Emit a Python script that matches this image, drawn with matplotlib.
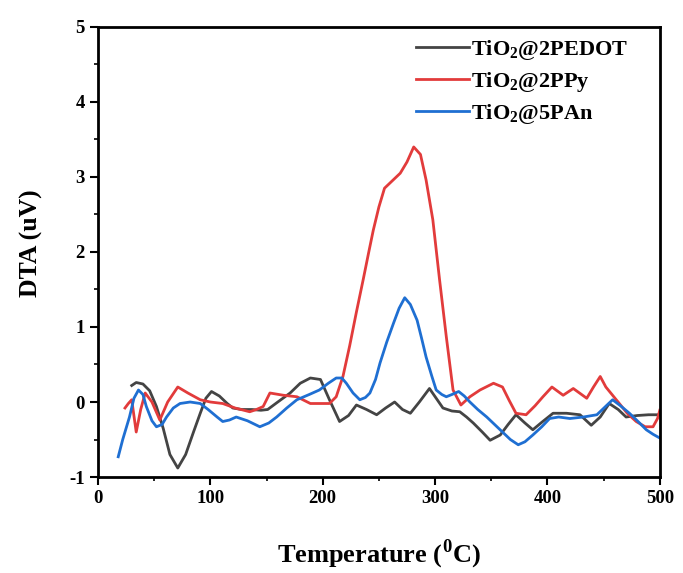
import matplotlib.pyplot as plt

# temperature (°C) and DTA (uV)
t_pedot = [30, 34, 40, 46, 52, 58, 64, 71, 78, 85, 91, 96, 101, 108, 115, 120, 128, 137, 145, 151,
           160, 171, 180, 189, 198, 206, 215, 223, 230, 239, 248, 256, 264, 271, 278, 286, 295,
           301, 307, 315, 322, 328, 334, 342, 349, 358, 365, 372, 380, 387, 395, 405, 417, 429,
           439, 447, 455, 463, 470, 480, 490, 500]
dta_pedot = [0.22, 0.26, 0.24, 0.15, -0.06, -0.35, -0.7, -0.88, -0.7, -0.4, -0.15, 0.05, 0.14, 0.08,
             -0.02, -0.08, -0.1, -0.1, -0.11, -0.1, 0.0, 0.12, 0.25, 0.32, 0.3, 0.03, -0.26, -0.18,
             -0.04, -0.1, -0.17, -0.08, 0.0, -0.1, -0.15, 0.0, 0.18, 0.05, -0.08, -0.12, -0.13,
             -0.2, -0.28, -0.4, -0.51, -0.44, -0.3, -0.17, -0.28, -0.37, -0.27, -0.15, -0.15,
             -0.17, -0.31, -0.2, -0.02, -0.1, -0.2, -0.18, -0.17, -0.17]

t_ppy = [24, 27, 30, 34, 38, 42, 48, 55, 62, 71, 80, 91, 100, 111, 122, 135, 141, 147, 153, 165,
         177, 189, 198, 206, 212, 218, 224, 230, 236, 241, 245, 250, 255, 262, 269, 275, 281, 287,
         292, 298, 304, 310, 316, 323, 331, 340, 352, 360, 366, 372, 381, 389, 396, 404, 414, 423,
         435, 441, 447, 452, 458, 464, 471, 479, 487, 494, 498, 500]
dta_ppy = [-0.08, -0.02, 0.03, -0.4, -0.1, 0.12, 0.0, -0.24, 0.0, 0.2, 0.12, 0.03, 0.0, -0.02,
           -0.08, -0.13, -0.1, -0.06, 0.12, 0.09, 0.07, -0.02, -0.02, -0.02, 0.07, 0.34, 0.75,
           1.2, 1.63, 2.0, 2.29, 2.6, 2.85, 2.95, 3.05, 3.2, 3.4, 3.3, 2.96, 2.43, 1.63, 0.87,
           0.16, -0.04, 0.07, 0.16, 0.25, 0.2, 0.02, -0.15, -0.17, -0.05, 0.07, 0.2, 0.09, 0.18,
           0.05, 0.2, 0.34, 0.2, 0.09, -0.02, -0.15, -0.26, -0.33, -0.33, -0.22, -0.11]

t_pan = [18, 22, 28, 32, 36, 40, 43, 48, 52, 57, 61, 67, 73, 82, 91, 98, 106, 111, 117, 123, 133,
         144, 152, 159, 168, 177, 188, 197, 205, 212, 217, 221, 227, 233, 238, 242, 247, 251, 257,
         263, 268, 273, 278, 284, 288, 292, 297, 301, 306, 310, 315, 321, 326, 331, 338, 346, 353,
         360, 367, 374, 380, 387, 395, 402, 410, 420, 432, 444, 451, 458, 465, 473, 480, 488,
         494, 500]
dta_pan = [-0.73, -0.5, -0.2, 0.05, 0.16, 0.1, -0.06, -0.25, -0.33, -0.3, -0.2, -0.08, -0.02, 0.0,
           -0.02, -0.1, -0.2, -0.26, -0.24, -0.2, -0.25, -0.33, -0.28, -0.2, -0.08, 0.03, 0.1,
           0.16, 0.25, 0.32, 0.32, 0.25, 0.12, 0.03, 0.06, 0.12, 0.3, 0.52, 0.8, 1.05, 1.25, 1.39,
           1.3, 1.09, 0.85, 0.6, 0.35, 0.16, 0.1, 0.07, 0.1, 0.14, 0.08, 0.0, -0.1, -0.2, -0.3,
           -0.4, -0.5, -0.57, -0.53, -0.44, -0.33, -0.22, -0.2, -0.22, -0.2, -0.17, -0.07, 0.03,
           -0.05, -0.15, -0.25, -0.37, -0.43, -0.48]

labels = ['TiO$_2$@2PEDOT', 'TiO$_2$@2PPy', 'TiO$_2$@5PAn']
colors = ['#444444', '#e23b3b', '#1f6fd2']

plt.rcParams['font.family'] = 'Liberation Serif'
plt.rcParams['font.weight'] = 'bold'
plt.rcParams['mathtext.fontset'] = 'custom'
plt.rcParams['mathtext.rm'] = 'Liberation Serif:bold'
plt.rcParams['mathtext.bf'] = 'Liberation Serif:bold'
plt.rcParams['axes.unicode_minus'] = False

fig = plt.figure(figsize=(6.83, 5.73), dpi=100)
ax = fig.add_axes([0.1435, 0.1675, 0.8225, 0.7855])

ax.plot(t_pedot, dta_pedot, color=colors[0], lw=2.0, label=labels[0])
ax.plot(t_ppy, dta_ppy, color=colors[1], lw=2.0, label=labels[1])
ax.plot(t_pan, dta_pan, color=colors[2], lw=2.0, label=labels[2])

ax.set_xlim(0, 500)
ax.set_ylim(-1, 5)
ax.set_xticks(range(0, 501, 100))
ax.set_xticks(range(50, 500, 100), minor=True)
ax.set_yticks(range(-1, 6))
ax.set_yticks([-0.5, 0.5, 1.5, 2.5, 3.5, 4.5], minor=True)
ax.tick_params(which='major', direction='out', length=6, width=1.5, labelsize=13.5)
ax.tick_params(which='minor', direction='out', length=3, width=1.2)
for s in ax.spines.values():
    s.set_linewidth(2)

ax.set_xlabel('Temperature ($^{\\mathbf{0}}$C)', fontsize=19, fontweight='bold')
ax.xaxis.set_label_coords(0.5, -0.135)
ax.set_ylabel('DTA (uV)', fontsize=18.5, fontweight='bold')
ax.yaxis.set_label_coords(-0.098, 0.52)

ax.legend(loc='upper right', bbox_to_anchor=(0.968, 1.005), frameon=False, fontsize=16,
          handlelength=2.4, handletextpad=0.1, labelspacing=0.35, borderaxespad=0.2)

fig.savefig('out.png', dpi=100)
